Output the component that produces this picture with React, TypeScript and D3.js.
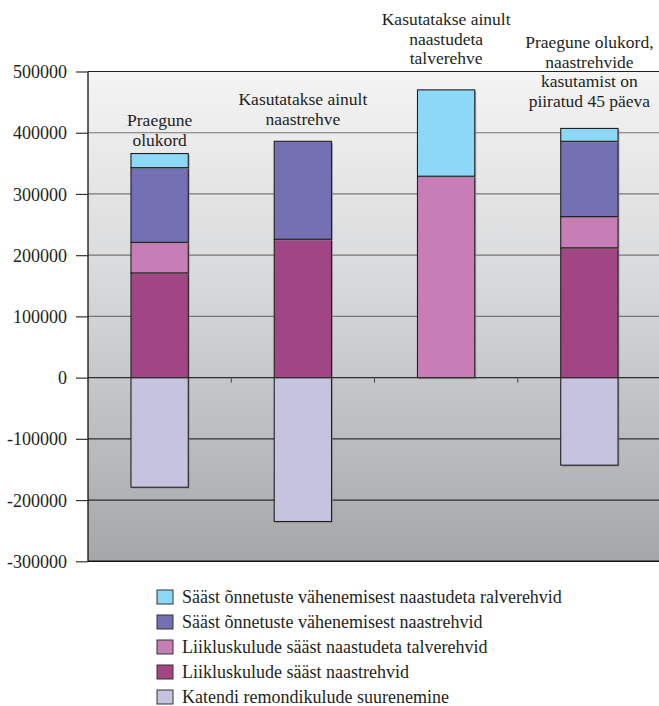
import React, { useEffect, useRef } from 'react';
import * as d3 from 'd3';

const categories = ['c1', 'c2', 'c3', 'c4'];
const categoryLabels = [
  ['Praegune', 'olukord'],
  ['Kasutatakse ainult', 'naastrehve'],
  ['Kasutatakse ainult', 'naastudeta', 'talverehve'],
  ['Praegune olukord,', 'naastrehvide', 'kasutamist on', 'piiratud 45 päeva'],
];

// stacked bottom to top
const liiklusNaast = [171000, 226000, 0, 212000];
const liiklusTalve = [50000, 0, 329000, 51000];
const onnetusNaast = [122000, 160000, 0, 123000];
const onnetusTalve = [23000, 0, 141000, 21000];
const katend = [-179000, -235000, 0, -143000];

const seriesKeys = ['liiklusNaast', 'liiklusTalve', 'onnetusNaast', 'onnetusTalve', 'katend'];
const seriesValues = [liiklusNaast, liiklusTalve, onnetusNaast, onnetusTalve, katend];
const seriesColors = ['#a24585', '#c77db6', '#7570b3', '#8dd8f7', '#c6c3e1'];

const legendLabels = [
  'Sääst õnnetuste vähenemisest naastudeta ralverehvid',
  'Sääst õnnetuste vähenemisest naastrehvid',
  'Liikluskulude sääst naastudeta talverehvid',
  'Liikluskulude sääst naastrehvid',
  'Katendi remondikulude suurenemine',
];
const legendColors = ['#8dd8f7', '#7570b3', '#c77db6', '#a24585', '#c6c3e1'];

const yTicks = [500000, 400000, 300000, 200000, 100000, 0, -100000, -200000, -300000];

const App: React.FC = () => {
  const svgRef = useRef<SVGSVGElement>(null);

  useEffect(() => {
    if (!svgRef.current) return;
    document.body.style.margin = '0';

    const width = 659;
    const height = 706;
    const left = 88;
    const right = 661;
    const top = 71.5;
    const bottom = 561.3;
    const font = 'Liberation Serif, serif';
    const ink = '#231f20';

    const svg = d3.select(svgRef.current);
    svg.selectAll('*').remove();
    svg.attr('width', width).attr('height', height).attr('viewBox', `0 0 ${width} ${height}`);

    const defs = svg.append('defs');
    const bg = defs.append('linearGradient')
      .attr('id', 'bg')
      .attr('x1', 0).attr('y1', 0).attr('x2', 0).attr('y2', 1);
    bg.append('stop').attr('offset', '0%').attr('stop-color', '#f4f4f5');
    bg.append('stop').attr('offset', '45%').attr('stop-color', '#d6d7d8');
    bg.append('stop').attr('offset', '100%').attr('stop-color', '#a4a6a8');

    const x = d3.scaleBand<string>()
      .domain(categories)
      .range([left, right])
      .paddingInner(0.6)
      .paddingOuter(0.3);

    const y = d3.scaleLinear().domain([-300000, 500000]).range([bottom, top]);

    const table = categories.map((c, i) => {
      const row: Record<string, number | string> = { cat: c };
      seriesKeys.forEach((k, j) => (row[k] = seriesValues[j][i]));
      return row;
    });

    const stacked = d3.stack<Record<string, number | string>>()
      .keys(seriesKeys)
      .offset(d3.stackOffsetDiverging)(table as any);

    // plot background
    svg.append('rect')
      .attr('x', left).attr('y', top)
      .attr('width', right - left).attr('height', bottom - top)
      .attr('fill', 'url(#bg)');

    // gridlines
    svg.append('g')
      .selectAll('line')
      .data(yTicks.filter(t => t !== 500000 && t !== -300000 && t !== 0))
      .enter()
      .append('line')
      .attr('x1', left).attr('x2', right)
      .attr('y1', d => y(d)).attr('y2', d => y(d))
      .attr('stroke', d => (d > 0 ? '#767676' : '#2e2e2e'))
      .attr('stroke-width', 1.2);

    // bars
    const step = x.step();
    const layers = svg.append('g')
      .selectAll('g')
      .data(stacked)
      .enter()
      .append('g')
      .attr('fill', (_d, i) => seriesColors[i]);

    layers.selectAll('rect.shadow')
      .data(d => d.filter(p => p[1] !== p[0]))
      .enter()
      .append('rect')
      .attr('class', 'shadow')
      .attr('x', d => (x(d.data.cat as string) as number) + 1.5)
      .attr('y', d => y(Math.max(d[0], d[1])) + 1.5)
      .attr('width', x.bandwidth())
      .attr('height', d => Math.abs(y(d[0]) - y(d[1])))
      .attr('fill', '#8a8a8a')
      .attr('opacity', 0.6);

    layers.selectAll('rect.bar')
      .data(d => d.filter(p => p[1] !== p[0]))
      .enter()
      .append('rect')
      .attr('class', 'bar')
      .attr('x', d => x(d.data.cat as string) as number)
      .attr('y', d => y(Math.max(d[0], d[1])))
      .attr('width', x.bandwidth())
      .attr('height', d => Math.abs(y(d[0]) - y(d[1])))
      .attr('stroke', '#231f20')
      .attr('stroke-width', 1.1);

    // zero line and category separators
    svg.append('line')
      .attr('x1', left).attr('x2', right)
      .attr('y1', y(0)).attr('y2', y(0))
      .attr('stroke', '#2e2e2e').attr('stroke-width', 1.2);

    svg.append('g')
      .selectAll('line')
      .data(categories.slice(1))
      .enter()
      .append('line')
      .attr('x1', d => (x(d) as number) - step * x.paddingInner() / 2)
      .attr('x2', d => (x(d) as number) - step * x.paddingInner() / 2)
      .attr('y1', y(0)).attr('y2', y(0) + 5)
      .attr('stroke', '#444').attr('stroke-width', 1);

    // frame: left axis, top and bottom borders
    svg.append('line')
      .attr('x1', left).attr('x2', left).attr('y1', top).attr('y2', bottom)
      .attr('stroke', '#111').attr('stroke-width', 1.3);
    svg.append('line')
      .attr('x1', left).attr('x2', right).attr('y1', top).attr('y2', top)
      .attr('stroke', '#222').attr('stroke-width', 1.2);
    svg.append('line')
      .attr('x1', left).attr('x2', right).attr('y1', bottom).attr('y2', bottom)
      .attr('stroke', '#111').attr('stroke-width', 1.4);

    // y axis
    const yAxis = svg.append('g')
      .attr('transform', `translate(${left},0)`)
      .call(d3.axisLeft(y).tickValues(yTicks).tickSize(12).tickPadding(9).tickFormat(d => String(d)));
    yAxis.select('.domain').remove();
    yAxis.selectAll('.tick line').attr('stroke', '#333').attr('stroke-width', 1.2);
    yAxis.selectAll('.tick text')
      .attr('fill', ink)
      .attr('font-family', font)
      .attr('font-size', 18)
      .attr('dy', '0.34em');

    // category labels above bars
    const labelFirstBaseline = [126, 105, 25, 48];
    const lineHeight = 19.5;
    categories.forEach((c, i) => {
      const cx = (x(c) as number) + x.bandwidth() / 2;
      svg.append('text')
        .attr('text-anchor', 'middle')
        .attr('fill', ink)
        .attr('font-family', font)
        .attr('font-size', 17.5)
        .selectAll('tspan')
        .data(categoryLabels[i])
        .enter()
        .append('tspan')
        .attr('x', cx)
        .attr('y', (_d, j) => labelFirstBaseline[i] + j * lineHeight)
        .text(d => d);
    });

    // legend
    const legend = svg.append('g').attr('transform', 'translate(157,597)');
    const rows = legend.selectAll('g')
      .data(legendLabels)
      .enter()
      .append('g')
      .attr('transform', (_d, i) => `translate(0,${i * 25})`);
    rows.append('rect')
      .attr('x', 0).attr('y', -7)
      .attr('width', 16).attr('height', 14)
      .attr('fill', (_d, i) => legendColors[i])
      .attr('stroke', '#333').attr('stroke-width', 1);
    rows.append('text')
      .attr('x', 25).attr('y', 6)
      .attr('fill', ink)
      .attr('font-family', font)
      .attr('font-size', 18)
      .text(d => d);
  }, []);

  return <svg ref={svgRef} style={{ display: 'block' }} />;
};

export default App;
